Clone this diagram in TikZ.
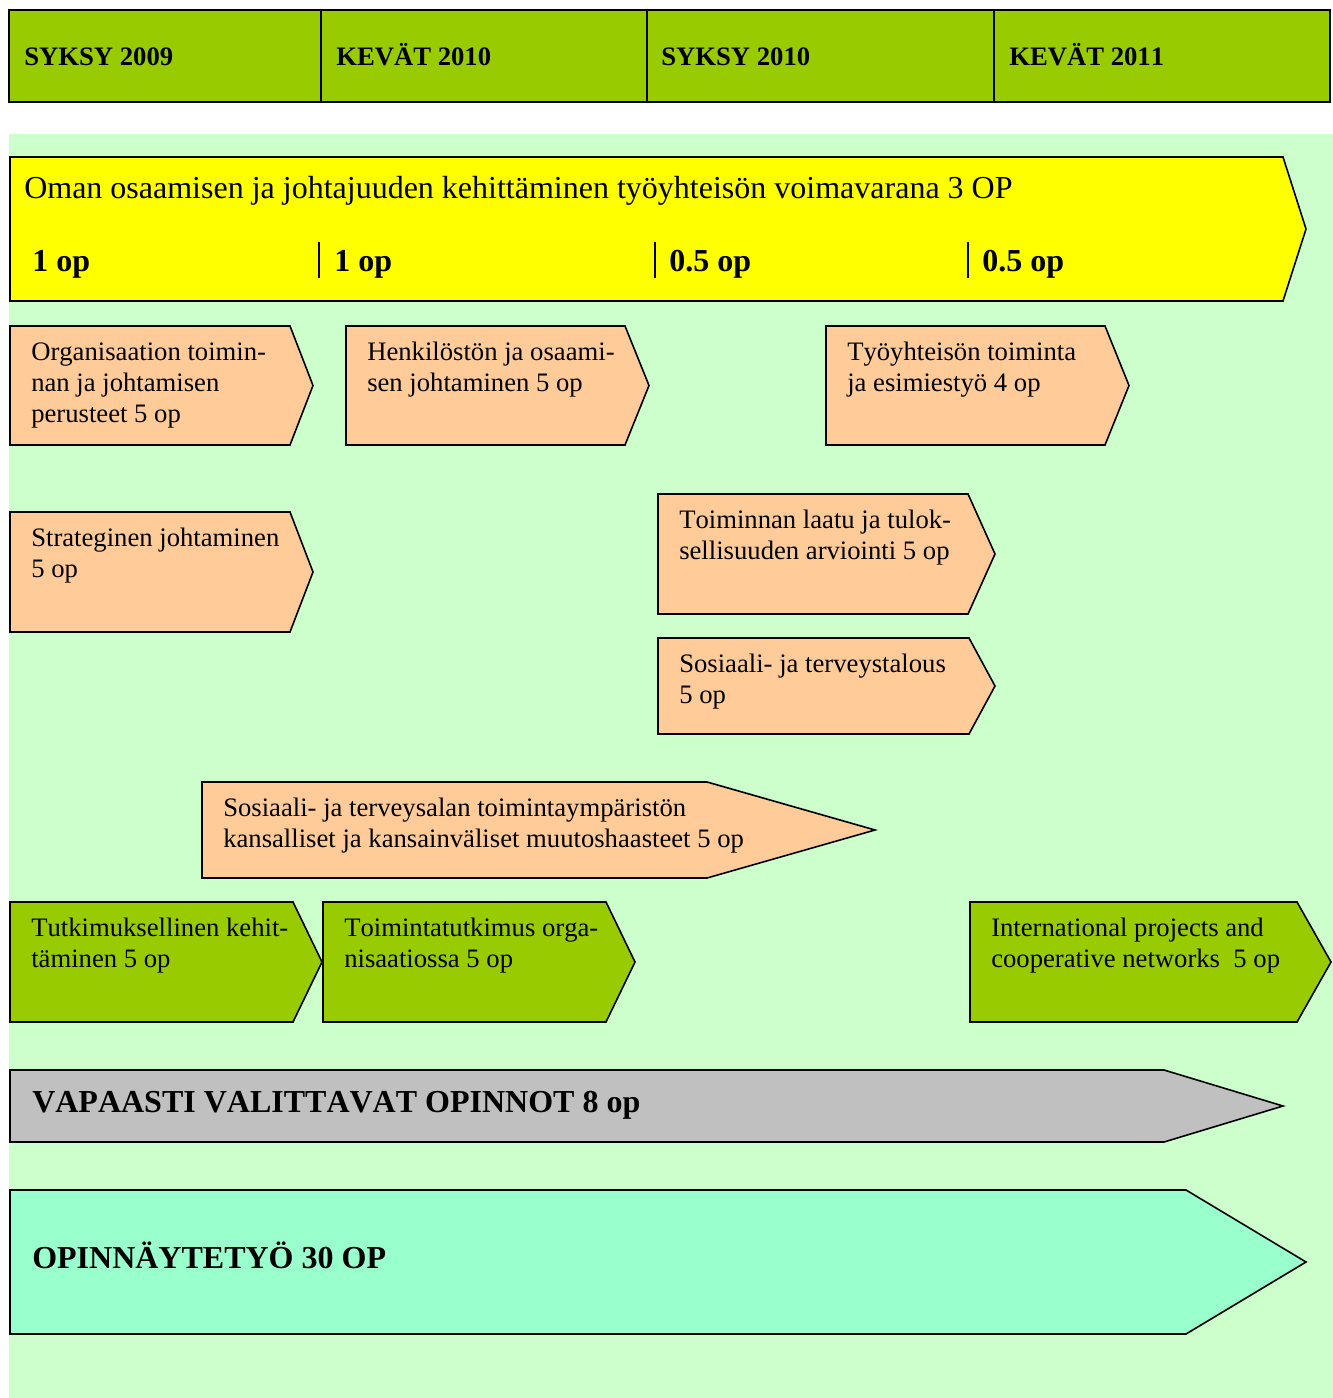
\documentclass[tikz,border=0pt]{standalone}
\usepackage{fontspec}
\setmainfont{Liberation Serif}[Kerning=Off]
\usetikzlibrary{positioning}

\definecolor{cVihrea}{HTML}{99CC00}
\definecolor{cPersikka}{HTML}{FFCC99}
\definecolor{cTausta}{HTML}{CCFFCC}
\definecolor{cKeltainen}{HTML}{FFFF00}
\definecolor{cHarmaa}{HTML}{C0C0C0}
\definecolor{cTurkoosi}{HTML}{99FFCC}

% nimi, tyyli, vasen, yla, runko, karki, ala, teksti
\newcommand{\kurssi}[8]{%
  \draw[#2] (#3,#4) -- (#5,#4) -- (#6,{(#4+#7)/2}) -- (#5,#7) -- (#3,#7) -- cycle;
  \node[teksti] (#1) at ({#3+21},{#4+34}) {\begin{tabular}[t]{@{}l@{}}#8\end{tabular}};}

\begin{document}
\begin{tikzpicture}[x=0.75pt,y=-0.75pt,
    reuna/.style={draw=black,line width=1.2pt},
    persikka/.style={reuna,fill=cPersikka},
    vihrea/.style={reuna,fill=cVihrea},
    teksti/.style={anchor=base west,inner sep=0pt,
      font=\fontsize{20}{23.4}\selectfont},
    kausi/.style={anchor=base west,inner sep=0pt,font=\bfseries\fontsize{20}{24}\selectfont},
    iso/.style={anchor=base west,inner sep=0pt,font=\bfseries\fontsize{24}{28}\selectfont}]
  \useasboundingbox (0,0) rectangle (1333,1398);
  \fill[cTausta] (9,134) rectangle (1333,1398);

  % lukukaudet
  \draw[fill=cVihrea,line width=2.2pt] (9,10) rectangle (1330,102);
  \foreach \x in {321,647,994}
    \draw[line width=1.5pt] (\x,10) -- (\x,102);
  \node[kausi] (s09) at (24,66) {SYKSY 2009};
  \node[kausi] (k10) at (336,66) {KEVÄT 2010};
  \node[kausi] (s10) at (661,66) {SYKSY 2010};
  \node[kausi] (k11) at (1009,66) {KEVÄT 2011};

  % oma osaaminen
  \draw[reuna,fill=cKeltainen] (10,157) -- (1283,157) -- (1306,229) -- (1283,301) -- (10,301) -- cycle;
  \node[anchor=base west,inner sep=0pt,font=\fontsize{24}{28}\selectfont] (oman) at (24,199)
    {Oman osaamisen ja johtajuuden kehittäminen työyhteisön voimavarana 3 OP};
  \foreach \x in {319,655,968}
    \draw[line width=1pt] (\x,242) -- (\x,278);
  \node[iso] (op1) at (32,272) {1 op};
  \node[iso] (op2) at (334,272) {1 op};
  \node[iso] (op3) at (669,272) {0.5 op};
  \node[iso] (op4) at (982,272) {0.5 op};

  % opintojaksot
  \kurssi{org}{persikka}{10}{326}{290}{313}{445}{Organisaation toimin-\\nan ja johtamisen\\perusteet 5 op}
  \kurssi{henk}{persikka}{346}{326}{625}{649}{445}{Henkilöstön ja osaami-\\sen johtaminen 5 op}
  \kurssi{tyo}{persikka}{826}{326}{1105}{1129}{445}{Työyhteisön toiminta\\ja esimiestyö 4 op}
  \kurssi{strat}{persikka}{10}{512}{290}{313}{632}{Strateginen johtaminen\\5 op}
  \kurssi{laatu}{persikka}{658}{494}{968}{995}{614}{Toiminnan laatu ja tulok-\\sellisuuden arviointi 5 op}
  \kurssi{talous}{persikka}{658}{638}{969}{995}{734}{Sosiaali- ja terveystalous\\5 op}
  \kurssi{ymp}{persikka}{202}{782}{707}{875}{878}{Sosiaali- ja terveysalan toimintaympäristön\\kansalliset ja kansainväliset muutoshaasteet 5 op}
  \kurssi{tutk}{vihrea}{10}{902}{293}{322}{1022}{Tutkimuksellinen kehit-\\täminen 5 op}
  \kurssi{toim}{vihrea}{323}{902}{606}{635}{1022}{Toimintatutkimus orga-\\nisaatiossa 5 op}
  \kurssi{int}{vihrea}{970}{902}{1297}{1331}{1022}{International projects and\\cooperative networks\ \ 5 op}

  % vapaasti valittavat ja opinnaytetyo
  \draw[reuna,fill=cHarmaa] (10,1070) -- (1164,1070) -- (1283,1106) -- (1164,1142) -- (10,1142) -- cycle;
  \node[iso] (vapaa) at (32,1112) {VAPAASTI VALITTAVAT OPINNOT 8 op};
  \draw[reuna,fill=cTurkoosi] (10,1190) -- (1186,1190) -- (1306,1262) -- (1186,1334) -- (10,1334) -- cycle;
  \node[iso] (opn) at (32,1268) {OPINNÄYTETYÖ 30 OP};
\end{tikzpicture}
\end{document}
